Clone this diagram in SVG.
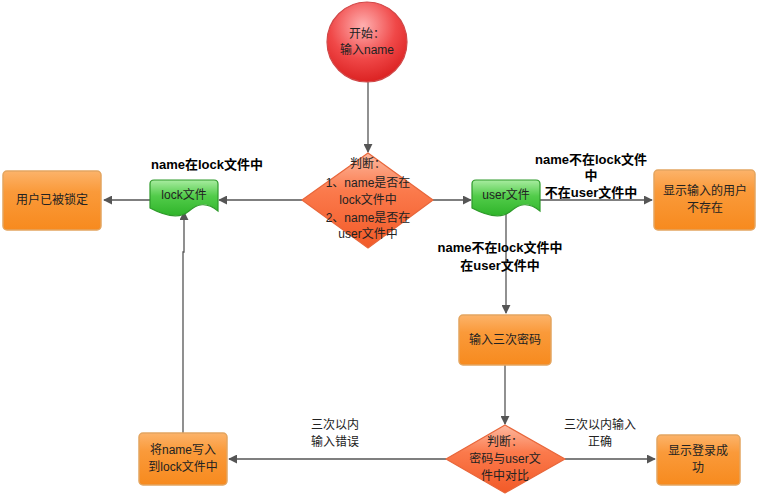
<svg xmlns="http://www.w3.org/2000/svg" width="757" height="496" viewBox="0 0 757 496">
<defs>
<radialGradient id="gRed" cx="0.45" cy="0.3" r="0.75">
<stop offset="0" stop-color="#ffb0b0"/>
<stop offset="0.55" stop-color="#f04848"/>
<stop offset="1" stop-color="#d81c1c"/>
</radialGradient>
<linearGradient id="gOrange" x1="0" y1="0" x2="0" y2="1">
<stop offset="0" stop-color="#fcb36a"/>
<stop offset="0.35" stop-color="#fa9a3a"/>
<stop offset="1" stop-color="#f78a1e"/>
</linearGradient>
<linearGradient id="gDiamond" x1="0" y1="0" x2="0" y2="1">
<stop offset="0" stop-color="#fdb9a0"/>
<stop offset="0.4" stop-color="#fb7a4c"/>
<stop offset="1" stop-color="#f25a28"/>
</linearGradient>
<linearGradient id="gGreen" x1="0" y1="0" x2="0" y2="1">
<stop offset="0" stop-color="#a8eca0"/>
<stop offset="0.45" stop-color="#52cc4a"/>
<stop offset="1" stop-color="#2fb42a"/>
</linearGradient>
<marker id="arr" viewBox="0 0 10 10" refX="9" refY="5" markerWidth="9" markerHeight="9" markerUnits="userSpaceOnUse" orient="auto">
<path d="M0,0 L10,5 L0,10 z" fill="#555"/>
</marker>
</defs>
<style>
text{font-family:"Liberation Sans","Noto Sans CJK SC",sans-serif;font-size:12px;fill:#222;text-anchor:middle}
.b{font-weight:bold;fill:#000;font-size:13px}
.box{fill:url(#gOrange);stroke:#e3a560;stroke-width:1.5}
.dia{fill:url(#gDiamond);stroke:#e8663a;stroke-width:1.2}
.doc{fill:url(#gGreen);stroke:#2e9a2a;stroke-width:1.2}
.ln{fill:none;stroke:#555;stroke-width:1.3;marker-end:url(#arr)}
</style>
<rect width="757" height="496" fill="#fff"/>
<g id="connectors">
<path class="ln" d="M368,82 L368,152"/>
<path class="ln" d="M302,200 L219,200"/>
<path class="ln" d="M150,200 L104,200"/>
<path class="ln" d="M433,200 L471,200"/>
<path class="ln" d="M540,200 L652,200"/>
<path class="ln" d="M506,211 L506,313"/>
<path class="ln" d="M505,365 L505,424"/>
<path class="ln" d="M565,459 L655,459"/>
<path class="ln" d="M446,459 L229,459"/>
<path class="ln" d="M183,433 L183,252 L184,252 L184,212"/>
<text class="b" x="207" y="169">name在lock文件中</text>
<text class="b" x="591" y="164">name不在lock文件</text>
<text class="b" x="591" y="180">中</text>
<text class="b" x="591" y="197">不在user文件中</text>
<text class="b" x="500" y="252">name不在lock文件中</text>
<text class="b" x="500" y="270">在user文件中</text>
<text x="335" y="429">三次以内</text>
<text x="335" y="446">输入错误</text>
<text x="600" y="429">三次以内输入</text>
<text x="600" y="446">正确</text>
</g>
<g id="start">
<circle cx="367" cy="42" r="40" fill="url(#gRed)" stroke="#d04848" stroke-width="1.2"/>
<text x="367" y="38">开始：</text>
<text x="367" y="54">输入name</text>
</g>
<g id="judge1">
<path class="dia" d="M368,153 L433,200 L368,248 L302,200 Z" stroke-linejoin="round"/>
<text x="368" y="168">判断：</text>
<text x="368" y="187">1、name是否在</text>
<text x="368" y="204">lock文件中</text>
<text x="368" y="222">2、name是否在</text>
<text x="368" y="238">user文件中</text>
</g>
<g id="lockfile">
<path class="doc" d="M154,180 L214,180 Q218,180 218,184 L218,211 C206,201 197,204 189,211 C181,218 167,217 150,208 L150,184 Q150,180 154,180 Z"/>
<text x="184" y="199">lock文件</text>
</g>
<g id="locked">
<rect class="box" x="3" y="171" width="98" height="59" rx="4"/>
<text x="52" y="204">用户已被锁定</text>
</g>
<g id="userfile">
<path class="doc" d="M476,180 L536,180 Q540,180 540,184 L540,211 C528,201 519,204 511,211 C503,218 489,217 472,208 L472,184 Q472,180 476,180 Z"/>
<text x="506" y="199">user文件</text>
</g>
<g id="notexist">
<rect class="box" x="654" y="170" width="101" height="60" rx="4"/>
<text x="705" y="195">显示输入的用户</text>
<text x="705" y="212">不存在</text>
</g>
<g id="inputpwd">
<rect class="box" x="459" y="315" width="92" height="50" rx="4"/>
<text x="505" y="344">输入三次密码</text>
</g>
<g id="judge2">
<path class="dia" d="M505,425 L565,459 L505,493 L446,459 Z" stroke-linejoin="round"/>
<text x="505" y="446">判断：</text>
<text x="505" y="463">密码与user文</text>
<text x="505" y="480">件中对比</text>
</g>
<g id="success">
<rect class="box" x="657" y="435" width="83" height="50" rx="4"/>
<text x="698" y="455">显示登录成</text>
<text x="698" y="472">功</text>
</g>
<g id="writelock">
<rect class="box" x="139" y="433" width="88" height="52" rx="4"/>
<text x="183" y="454">将name写入</text>
<text x="183" y="471">到lock文件中</text>
</g>
</svg>
